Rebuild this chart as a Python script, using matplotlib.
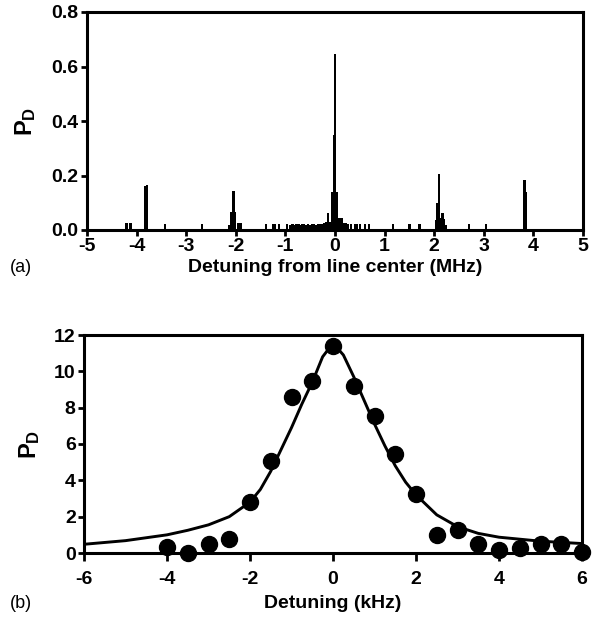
import matplotlib
matplotlib.use("Agg")
import matplotlib.pyplot as plt

plt.rcParams['font.family'] = ['Liberation Sans', 'DejaVu Sans']
plt.rcParams['font.weight'] = 'bold'
plt.rcParams['axes.unicode_minus'] = False
plt.rcParams['mathtext.fontset'] = 'custom'
plt.rcParams['mathtext.bf'] = 'Liberation Sans:bold'
plt.rcParams['mathtext.rm'] = 'Liberation Sans:bold'

# ---- panel (a): spectrum (MHz) ----
spec_pos = [-4.20, -4.12, -3.82, -3.79, -3.43, -2.68,
            -2.13, -2.09, -2.05, -2.02, -1.96, -1.91,
            -1.39, -1.25, -1.21, -1.13, -0.97,
            -0.90, -0.86, -0.82, -0.78, -0.74, -0.70, -0.66, -0.62, -0.58,
            -0.54, -0.50, -0.46, -0.42, -0.38, -0.34, -0.30, -0.26, -0.22,
            -0.18, -0.14, -0.10, -0.05, -0.02, 0.00, 0.03, 0.06,
            0.10, 0.14, 0.18, 0.22, 0.26, 0.32, 0.40, 0.44, 0.50, 0.60, 0.69,
            1.17, 1.50, 1.70,
            2.04, 2.07, 2.10, 2.13, 2.17, 2.20, 2.23,
            2.70, 3.04, 3.82, 3.84]
spec_val = [0.024, 0.024, 0.16, 0.166, 0.022, 0.022,
            0.020, 0.066, 0.144, 0.066, 0.026, 0.026,
            0.022, 0.022, 0.022, 0.022, 0.022,
            0.020, 0.022, 0.020, 0.022, 0.022, 0.020, 0.022, 0.022, 0.020,
            0.022, 0.020, 0.022, 0.022, 0.020, 0.022, 0.022, 0.022, 0.025,
            0.030, 0.064, 0.030, 0.14, 0.35, 0.645, 0.14, 0.045,
            0.043, 0.043, 0.027, 0.027, 0.022, 0.022, 0.022, 0.022, 0.022, 0.022, 0.022,
            0.022, 0.022, 0.022,
            0.035, 0.10, 0.205, 0.045, 0.064, 0.040, 0.020,
            0.022, 0.022, 0.183, 0.14]
a_xticks = [-5, -4, -3, -2, -1, 0, 1, 2, 3, 4, 5]
a_yticks = [0.0, 0.2, 0.4, 0.6, 0.8]

# ---- panel (b): detuning (kHz) ----
dot_x = [-4, -3.5, -3, -2.5, -2, -1.5, -1, -0.5, 0, 0.5, 1, 1.5, 2, 2.5, 3,
         3.5, 4, 4.5, 5, 5.5, 6]
dot_y = [0.31, 0.0, 0.5, 0.77, 2.79, 5.08, 8.57, 9.49, 11.4, 9.17, 7.56, 5.47,
         3.25, 0.97, 1.25, 0.5, 0.15, 0.28, 0.5, 0.5, 0.05]
fit_x = [-6, -5, -4, -3.5, -3, -2.5, -2, -1.75, -1.5, -1.25, -1, -0.75, -0.5,
         -0.25, 0, 0.25, 0.5, 0.75, 1, 1.25, 1.5, 1.75, 2, 2.5, 3, 3.5, 4, 5, 6]
fit_y = [0.48, 0.68, 1.0, 1.25, 1.55, 2.0, 2.8, 3.5, 4.5, 5.7, 6.9, 8.2, 9.4,
         10.8, 11.55, 10.9, 9.7, 8.4, 7.1, 5.9, 4.8, 3.9, 3.2, 2.1, 1.45, 1.08,
         0.87, 0.65, 0.52]
b_xticks = [-6, -4, -2, 0, 2, 4, 6]
b_yticks = [0, 2, 4, 6, 8, 10, 12]

FS = 14
fig = plt.figure(figsize=(6.06, 6.20), dpi=100)

def style(ax, xlen=4, xpad=2):
    for s in ax.spines.values():
        s.set_linewidth(2.2)
    ax.tick_params(direction='out', length=4, width=2, labelsize=FS,
                   top=False, right=False, pad=2)
    ax.tick_params(axis='x', length=xlen, pad=xpad)

# panel a
ax1 = fig.add_axes([87/606, 1-230/620, (583-87)/606, (230-12)/620])
ax1.bar(spec_pos, spec_val, width=0.05, color='black', linewidth=0)
ax1.set_xlim(-5, 5)
ax1.set_ylim(0, 0.8)
ax1.set_xticks(a_xticks)
ax1.set_yticks(a_yticks)
ax1.set_yticklabels([f"{v:.1f}" for v in a_yticks])
style(ax1)
ax1.set_xlabel("Detuning from line center (MHz)", fontsize=FS, fontweight='bold', labelpad=3)
ax1.set_ylabel(r"$\mathbf{P_D}$", fontsize=FS + 3, labelpad=10)

# panel b
ax2 = fig.add_axes([84/606, 1-553/620, (582-84)/606, (553-335)/620])
ax2.plot(fit_x, fit_y, color='black', linewidth=2.1)
ax2.plot(dot_x, dot_y, 'o', color='black', markersize=11.5, clip_on=False, zorder=3)
ax2.set_xlim(-6, 6)
ax2.set_ylim(0, 12)
ax2.set_xticks(b_xticks)
ax2.set_yticks(b_yticks)
style(ax2, xlen=6, xpad=7)
ax2.set_xlabel("Detuning (kHz)", fontsize=FS, fontweight='bold', labelpad=5)
ax2.set_ylabel(r"$\mathbf{P_D}$", fontsize=FS + 3, labelpad=9)

fig.text(10/606, 1-268/620, "(a)", fontsize=FS - 1, fontweight='normal', va='center')
fig.text(10/606, 1-603/620, "(b)", fontsize=FS - 1, fontweight='normal', va='center')

fig.savefig("out.png", dpi=100)
